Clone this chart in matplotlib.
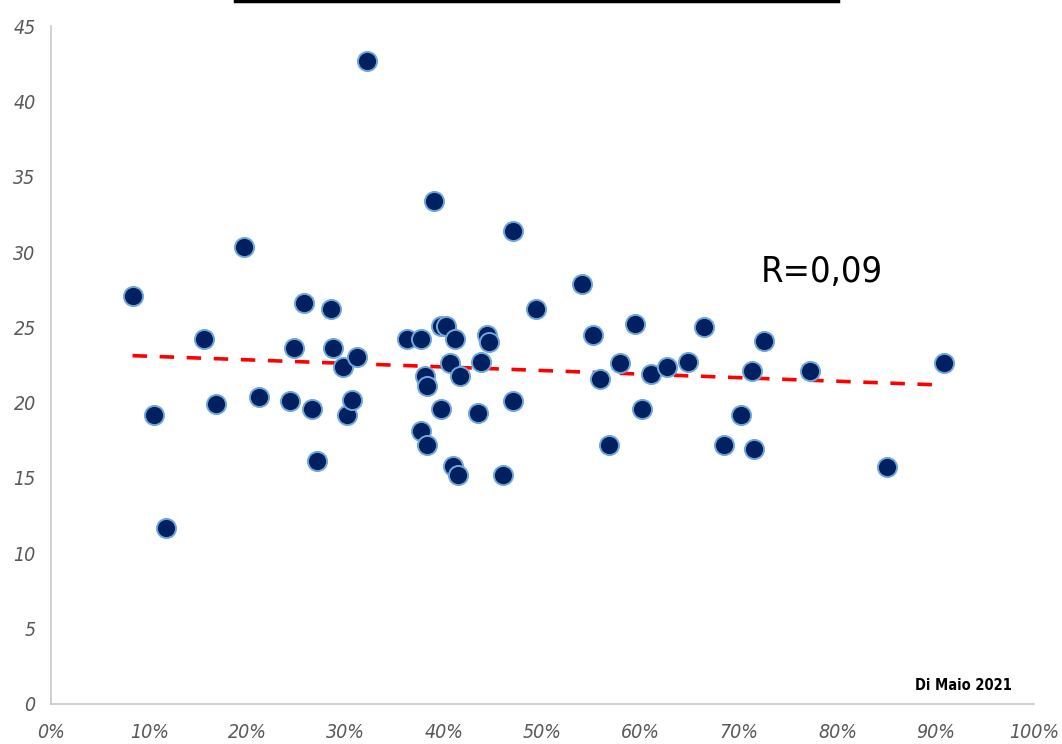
import numpy as np
import matplotlib.pyplot as plt
from matplotlib.lines import Line2D
from matplotlib.ticker import FuncFormatter

# share (%) on x, value on y
share_pct = [8.3, 10.5, 11.7, 15.6, 16.8, 19.6, 21.2, 24.3, 24.7, 25.7,
             26.6, 27.1, 28.5, 28.7, 29.7, 30.1, 30.6, 31.1, 32.2, 36.2,
             37.6, 37.6, 38.1, 38.3, 38.3, 39.0, 39.7, 40.2, 39.7, 40.6,
             41.1, 40.9, 41.4, 41.6, 43.4, 43.7, 44.4, 44.6, 46.0, 47.0,
             47.0, 49.3, 54.0, 55.1, 55.9, 56.8, 57.9, 59.4, 60.1, 61.0,
             62.7, 64.8, 66.4, 68.5, 70.2, 71.3, 71.5, 72.5, 77.2, 85.1,
             90.8]
values = [27.1, 19.2, 11.7, 24.2, 19.9, 30.3, 20.4, 20.1, 23.6, 26.6,
          19.6, 16.1, 26.2, 23.6, 22.4, 19.2, 20.2, 23.0, 42.7, 24.2,
          24.2, 18.1, 21.8, 21.1, 17.2, 33.4, 25.1, 25.1, 19.6, 22.6,
          24.2, 15.8, 15.2, 21.8, 19.3, 22.7, 24.5, 24.0, 15.2, 31.4,
          20.1, 26.2, 27.9, 24.5, 21.6, 17.2, 22.6, 25.2, 19.6, 21.9,
          22.4, 22.7, 25.0, 17.2, 19.2, 22.1, 16.9, 24.1, 22.1, 15.7,
          22.6]
x_ticks = [0, 10, 20, 30, 40, 50, 60, 70, 80, 90, 100]
y_ticks = [0, 5, 10, 15, 20, 25, 30, 35, 40, 45]

x = np.array(share_pct) / 100
y = np.array(values)

fig = plt.figure(figsize=(10.62, 7.44), dpi=100)
ax = fig.add_axes([0.048, 0.0538, 0.9256, 0.9112])

ax.scatter(x, y, s=190, color="#002060", edgecolors="#6FA8DC", linewidths=1.4, zorder=3)

# linear trend
slope, intercept = np.polyfit(x, y, 1)
xs = np.array([x.min(), x.max()])
ax.plot(xs, slope * xs + intercept, color="#FF0000", linestyle=(0, (4, 3.5)), linewidth=2.6, zorder=2)

ax.set_xlim(0, 1)
ax.set_ylim(0, 45)
ax.set_xticks([t / 100 for t in x_ticks])
ax.set_yticks(y_ticks)
ax.xaxis.set_major_formatter(FuncFormatter(lambda v, p: f"{v * 100:.0f}%"))

for s in ["top", "right"]:
    ax.spines[s].set_visible(False)
for s in ["left", "bottom"]:
    ax.spines[s].set_color("#C8C8C8")
    ax.spines[s].set_linewidth(1.2)
ax.tick_params(length=0, colors="#595959")
ax.tick_params(axis="y", pad=11)
ax.tick_params(axis="x", pad=14)
for lab in ax.get_xticklabels() + ax.get_yticklabels():
    lab.set_fontsize(14)
    lab.set_style("italic")
    lab.set_fontstretch("condensed")

ax.text(0.722, 28.7, "R=0,09", fontsize=26, fontstretch="condensed", color="black", va="center", ha="left")
ax.text(0.928, 1.25, "Di Maio 2021", fontsize=10.5, fontweight="bold", fontstretch="condensed", color="black", ha="center", va="center")

# cut-off title underline at the very top
fig.add_artist(Line2D([235 / 1062, 838 / 1062], [0.999, 0.999], color="black", linewidth=2.5))

fig.savefig("out.png", dpi=100)
